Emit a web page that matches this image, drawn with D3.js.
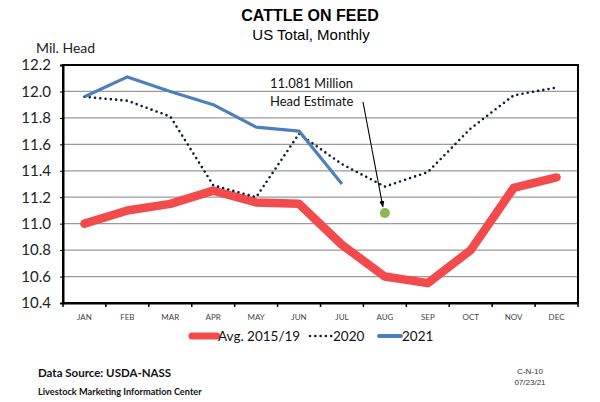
<!DOCTYPE html>
<html>
<head>
<meta charset="utf-8">
<script src="https://cdn.jsdelivr.net/npm/d3@7"></script>
<style>
  body { margin: 0; background: #fff; }
  svg { display: block; }
</style>
</head>
<body>
<svg id="chart" width="600" height="402"></svg>
<script>
const months = ["JAN","FEB","MAR","APR","MAY","JUN","JUL","AUG","SEP","OCT","NOV","DEC"];
const avg1519 = [11.00, 11.10, 11.15, 11.25, 11.16, 11.15, 10.84, 10.60, 10.55, 10.80, 11.27, 11.35];
const y2020 = [11.96, 11.93, 11.81, 11.29, 11.20, 11.68, 11.45, 11.28, 11.39, 11.72, 11.97, 12.03];
const y2021 = [11.96, 12.11, 12.00, 11.90, 11.73, 11.70, 11.30];
const estimate = { month: "AUG", value: 11.081 };
const yTicks = [10.4, 10.6, 10.8, 11.0, 11.2, 11.4, 11.6, 11.8, 12.0, 12.2];

const svg = d3.select("#chart");
const margin = {top: 65, right: 22, bottom: 99, left: 63};
const width = 600 - margin.left - margin.right;
const height = 402 - margin.top - margin.bottom;
const calibri = "Lato, 'Open Sans', sans-serif";
const arial = "'Liberation Sans', Arial, sans-serif";

const x = d3.scaleBand().domain(months).range([0, width]);
const y = d3.scaleLinear().domain([10.4, 12.2]).range([height, 0]);
const cx = m => x(m) + x.bandwidth() / 2;

const g = svg.append("g").attr("transform", `translate(${margin.left},${margin.top})`);

// titles
svg.append("text").attr("x", 310).attr("y", 21).attr("text-anchor", "middle")
  .style("font", `bold 16px ${arial}`).text("CATTLE ON FEED");
svg.append("text").attr("x", 311).attr("y", 40).attr("text-anchor", "middle")
  .style("font", `15px ${arial}`).text("US Total, Monthly");
svg.append("text").attr("x", 36).attr("y", 53)
  .style("font", `14px ${calibri}`).attr("fill", "#222").text("Mil. Head");

// gridlines
g.selectAll(".grid").data(yTicks.slice(1, -1)).join("line")
  .attr("x1", 0).attr("x2", width).attr("y1", d => y(d)).attr("y2", d => y(d))
  .attr("stroke", "#9a9a9a").attr("stroke-width", 1.2);

// plot border
g.append("rect").attr("width", width).attr("height", height)
  .attr("fill", "none").attr("stroke", "#000").attr("stroke-width", 2);

// y axis
const yAxis = g.append("g").call(d3.axisLeft(y).tickValues(yTicks).tickFormat(d3.format(".1f")).tickSize(3));
yAxis.select(".domain").attr("stroke-width", 2);
yAxis.selectAll("text").style("font", `15px ${calibri}`).attr("fill", "#222").attr("dx", "-6");

// x axis
const xAxis = g.append("g").attr("transform", `translate(0,${height})`)
  .call(d3.axisBottom(x).tickSize(0).tickPadding(11));
xAxis.select(".domain").attr("stroke-width", 2);
xAxis.selectAll("text").style("font", `8px ${calibri}`).attr("fill", "#444");
g.selectAll(".xtick").data(months.concat(["END"])).join("line")
  .attr("x1", (d, i) => i * x.bandwidth()).attr("x2", (d, i) => i * x.bandwidth())
  .attr("y1", height).attr("y2", height + 4).attr("stroke", "#000").attr("stroke-width", 1.5);

const line = d3.line().x((d, i) => cx(months[i])).y(d => y(d));

g.append("path").datum(avg1519).attr("d", line).attr("fill", "none")
  .attr("stroke", "#f34b4b").attr("stroke-width", 8.5).attr("stroke-linejoin", "round").attr("stroke-linecap", "round");
g.append("path").datum(y2020).attr("d", line).attr("fill", "none")
  .attr("stroke", "#0d1a3a").attr("stroke-width", 2.6).attr("stroke-dasharray", "0 5.3").attr("stroke-linecap", "round");
g.append("path").datum(y2021).attr("d", line).attr("fill", "none")
  .attr("stroke", "#4f7fba").attr("stroke-width", 3.2).attr("stroke-linejoin", "round");

// estimate marker and annotation
const ex = cx(estimate.month), ey = y(estimate.value);
svg.append("defs").append("marker").attr("id", "arrow").attr("viewBox", "0 0 10 10")
  .attr("refX", 9).attr("refY", 5).attr("markerWidth", 6).attr("markerHeight", 6).attr("orient", "auto")
  .append("path").attr("d", "M0,1 L10,5 L0,9 Z").attr("fill", "#000");
g.append("line").attr("x1", 363 - margin.left).attr("y1", 102 - margin.top)
  .attr("x2", ex - 2).attr("y2", ey - 6).attr("stroke", "#000").attr("stroke-width", 1.1)
  .attr("marker-end", "url(#arrow)");
g.append("circle").attr("cx", ex).attr("cy", ey).attr("r", 5).attr("fill", "#8db64e");
svg.append("text").attr("x", 270).attr("y", 88).style("font", `13px ${calibri}`).attr("fill", "#111").text("11.081 Million");
svg.append("text").attr("x", 270).attr("y", 106).style("font", `13px ${calibri}`).attr("fill", "#111").text("Head Estimate");

// legend
const legend = svg.append("g").attr("transform", "translate(0,336)");
const items = [
  {label: "Avg. 2015/19", x: 190, color: "#f34b4b", w: 7, dash: null, len: 27},
  {label: "2020", x: 308, color: "#0d1a3a", w: 2.6, dash: "0 5.3", len: 24},
  {label: "2021", x: 377, color: "#4f7fba", w: 4, dash: null, len: 24}
];
items.forEach(it => {
  legend.append("line").attr("x1", it.x + 2).attr("x2", it.x + it.len).attr("y1", 0).attr("y2", 0)
    .attr("stroke", it.color).attr("stroke-width", it.w).attr("stroke-linecap", "round")
    .attr("stroke-dasharray", it.dash);
  legend.append("text").attr("x", it.x + it.len + 1).attr("y", 5)
    .style("font", `13.5px ${calibri}`).attr("fill", "#111").text(it.label);
});

// footer
svg.append("text").attr("x", 38).attr("y", 377).style("font", `bold 11.5px ${calibri}`).attr("fill", "#111")
  .text("Data Source:  USDA-NASS");
svg.append("text").attr("x", 38).attr("y", 395).style("font", `bold 9.2px ${calibri}`).attr("fill", "#111")
  .text("Livestock Marketing Information Center");
svg.append("text").attr("x", 530).attr("y", 374).attr("text-anchor", "middle").style("font", `8px ${arial}`)
  .attr("fill", "#333").text("C-N-10");
svg.append("text").attr("x", 530).attr("y", 385).attr("text-anchor", "middle").style("font", `8px ${arial}`)
  .attr("fill", "#333").text("07/23/21");
</script>
</body>
</html>
